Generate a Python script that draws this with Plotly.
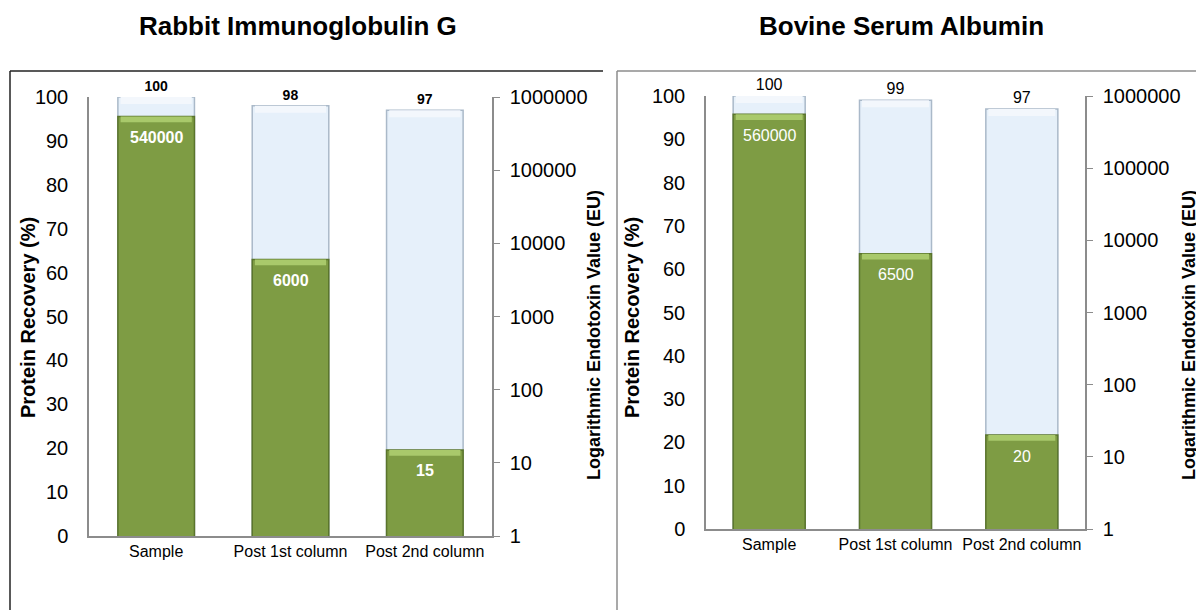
import math
import plotly.graph_objects as go

categories = ["Sample", "Post 1st column", "Post 2nd column"]
igg_recovery = [100, 98, 97]
igg_endotoxin = [540000, 6000, 15]
bsa_recovery = [100, 99, 97]
bsa_endotoxin = [560000, 6500, 20]
log_ticks = [1, 10, 100, 1000, 10000, 100000, 1000000]
log_ticktext = ["1", "10", "100", "1000", "10000", "100000", "1000000"]
lin_ticks = list(range(0, 101, 10))

OFF = 8  # default page body margin
W, H = 1204 - OFF, 610 - OFF
FONT = "Arial, Liberation Sans, sans-serif"
BLUE = "#E6F0FA"
BLUE_TOP = "#F3F7FC"
BLUE_LINE = "#AAB9C9"
GREEN = "#7E9C44"
GREEN_TOP = "#A9C96B"
GREEN_LINE = "#5A742C"
CAP_FACTOR = 1.2      # visual height of the bevel highlight on the log axis
CAP_PCT = 1.6         # visual height of the bevel highlight on the linear axis


def px(x):
    return (x - OFF) / W


def py(y):
    return 1 - (y - OFF) / H


fig = go.Figure()

panels = [
    ("x", "y", "y2", igg_recovery, igg_endotoxin, True),
    ("x2", "y3", "y4", bsa_recovery, bsa_endotoxin, False),
]
for xa, ya, yb, rec, endo, bold in panels:
    weight = "bold" if bold else "normal"
    fig.add_trace(go.Bar(x=categories, y=rec, xaxis=xa, yaxis=ya, width=0.57,
                         marker=dict(color=BLUE, line=dict(color=BLUE_LINE, width=1.5)),
                         text=[str(v) for v in rec], textposition="outside",
                         textfont=dict(family=FONT, size=14 if bold else 16, color="black", weight=weight),
                         cliponaxis=False, showlegend=False, hoverinfo="skip"))
    fig.add_trace(go.Bar(x=categories, y=[CAP_PCT] * len(rec), base=[v - CAP_PCT for v in rec],
                         xaxis=xa, yaxis=ya, width=0.53,
                         marker=dict(color=BLUE_TOP, line=dict(width=0)),
                         showlegend=False, hoverinfo="skip"))
    fig.add_trace(go.Bar(x=categories, y=endo, xaxis=xa, yaxis=yb, width=0.57,
                         marker=dict(color=GREEN, line=dict(color=GREEN_LINE, width=1.5)),
                         showlegend=False))
    fig.add_trace(go.Bar(x=categories, y=[v - v / CAP_FACTOR for v in endo],
                         base=[v / CAP_FACTOR for v in endo],
                         xaxis=xa, yaxis=yb, width=0.53,
                         marker=dict(color=GREEN_TOP, line=dict(width=0)),
                         showlegend=False, hoverinfo="skip"))
    for c, v in zip(categories, endo):
        fig.add_annotation(x=c, y=math.log10(v), xref=xa, yref=yb, text=str(v),
                           showarrow=False, yanchor="middle", yshift=-21,
                           font=dict(family=FONT, size=16, color="white", weight=weight))

axis_line = "#8C8C8C"
tickfont = dict(family=FONT, size=20, color="black")
catfont = dict(family=FONT, size=16, color="black")

common_x = dict(showline=True, linecolor=axis_line, linewidth=1.5, showgrid=False,
                ticks="", tickfont=catfont, zeroline=False, automargin=False)
left_y = dict(range=[0, 100], tickvals=lin_ticks, showline=True, linecolor=axis_line,
              linewidth=1.5, showgrid=False, zeroline=False, ticks="",
              tickfont=tickfont, ticklabelstandoff=15, automargin=False)
right_y = dict(type="log", range=[0, 6], tickvals=log_ticks, ticktext=log_ticktext,
               showline=True, linecolor=axis_line, linewidth=1.5, showgrid=False,
               zeroline=False, ticks="outside", ticklen=6, tickcolor=axis_line,
               tickfont=tickfont, side="right", ticklabelstandoff=6, automargin=False)

fig.update_layout(
    width=W, height=H,
    margin=dict(l=0, r=0, t=0, b=0, autoexpand=False),
    paper_bgcolor="white", plot_bgcolor="rgba(0,0,0,0)",
    barmode="overlay",
    font=dict(family=FONT),
    xaxis=dict(domain=[px(89), px(492)], anchor="y", **common_x),
    yaxis=dict(domain=[py(536), py(97)], anchor="x", **left_y),
    yaxis2=dict(overlaying="y", anchor="x", **right_y),
    xaxis2=dict(domain=[px(706), px(1085)], anchor="y3", **common_x),
    yaxis3=dict(domain=[py(529), py(96)], anchor="x2", **left_y),
    yaxis4=dict(overlaying="y3", anchor="x2", **right_y),
)

# Panel frames
fig.add_shape(type="line", xref="paper", yref="paper", x0=px(10), x1=px(10), y0=py(71), y1=0,
              line=dict(color="#222222", width=1.5))
fig.add_shape(type="line", xref="paper", yref="paper", x0=px(10), x1=px(603), y0=py(71), y1=py(71),
              line=dict(color="#222222", width=1.5))
fig.add_shape(type="line", xref="paper", yref="paper", x0=px(617), x1=px(617), y0=py(71), y1=0,
              line=dict(color="#8C8C8C", width=1.5))
fig.add_shape(type="line", xref="paper", yref="paper", x0=px(617), x1=1, y0=py(71), y1=py(71),
              line=dict(color="#8C8C8C", width=1.5))

titles = [
    ("Rabbit Immunoglobulin G", 298, 26),
    ("Bovine Serum Albumin", 901, 26),
]
for t, x, y in titles:
    fig.add_annotation(text=f"<b>{t}</b>", x=px(x), y=py(y), xref="paper", yref="paper",
                       showarrow=False, font=dict(family=FONT, size=26, color="black"),
                       xanchor="center", yanchor="middle")

axis_titles = [
    ("Protein Recovery (%)", 28, 318, 20),
    ("Logarithmic Endotoxin Value (EU)", 594, 335, 18),
    ("Protein Recovery (%)", 632, 318, 20),
    ("Logarithmic Endotoxin Value (EU)", 1189, 335, 18),
]
for t, x, y, s in axis_titles:
    fig.add_annotation(text=f"<b>{t}</b>", x=px(x), y=py(y), xref="paper", yref="paper",
                       showarrow=False, textangle=-90, font=dict(family=FONT, size=s, color="black"),
                       xanchor="center", yanchor="middle")

fig.write_html("out.html")
